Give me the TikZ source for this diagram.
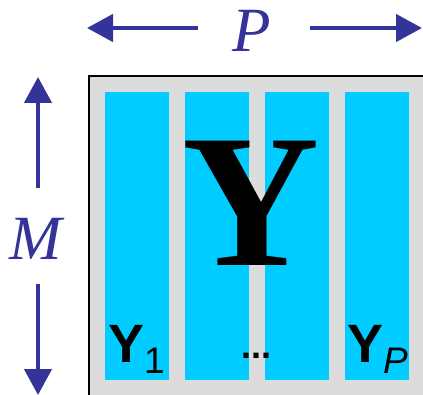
\documentclass[tikz,border=0pt]{standalone}
\usepackage{fontspec}
\setmainfont{Liberation Serif}
\setsansfont{Liberation Sans}
\usetikzlibrary{arrows.meta}
\definecolor{arrowblue}{HTML}{333399}
\definecolor{colcyan}{HTML}{00CCFF}
\definecolor{bggray}{HTML}{DCDCDC}
\begin{document}
\begin{tikzpicture}[x=1pt,y=-1pt,
  dimarrow/.style={draw=arrowblue,line width=4.5pt,-{Triangle[length=26pt,width=27pt]}},
  dimlabel/.style={inner sep=0pt,anchor=base,text=arrowblue,font=\fontsize{63}{63}\selectfont\itshape},
  column/.style={fill=colcyan,draw=none},
  sublabel/.style={inner sep=0pt,anchor=base west,font=\sffamily\fontsize{54}{54}\selectfont\bfseries},
  subindex/.style={inner sep=0pt,anchor=base west,font=\sffamily\fontsize{37}{37}\selectfont}]
\useasboundingbox (0,0) rectangle (423,395);
\clip (0,0) rectangle (423,395);
% matrix background
\fill[bggray] (89,76) rectangle (430,400);
\draw[black,line width=2pt] (89,400) -- (89,76) -- (430,76);
% columns
\fill[column] (105,92) rectangle (169,380);
\fill[column] (185,92) rectangle (249,380);
\fill[column] (265,92) rectangle (329,380);
\fill[column] (345,92) rectangle (409,380);
% big Y
\node (Y) [inner sep=0pt,anchor=base,font=\fontsize{190}{190}\selectfont\bfseries] at (251,266) {Y};
% column labels
\node (Y1) [sublabel] at (108,362) {Y};
\node (s1) [subindex] at (144,373) {1};
\node (dots) [inner sep=0pt,anchor=base,font=\sffamily\fontsize{36}{36}\selectfont\bfseries] at (256,358) {...};
\node (YP) [sublabel] at (347,362) {Y};
\node (sP) [subindex,font=\sffamily\fontsize{37}{37}\selectfont\itshape] at (383,373) {P};
% dimension labels
\node (P) [dimlabel] at (252,52) {P};
\node (M) [dimlabel] at (36,260) {M};
\coordinate (pl) at (198,28);
\coordinate (pltip) at (87,28);
\coordinate (pr) at (310,28);
\coordinate (prtip) at (422,28);
\coordinate (mt) at (38,188);
\coordinate (mttip) at (38,77);
\coordinate (mb) at (38,284);
\coordinate (mbtip) at (38,395);
\draw[dimarrow] (pl) -- (pltip);
\draw[dimarrow] (pr) -- (prtip);
\draw[dimarrow] (mt) -- (mttip);
\draw[dimarrow] (mb) -- (mbtip);
\end{tikzpicture}
\end{document}
